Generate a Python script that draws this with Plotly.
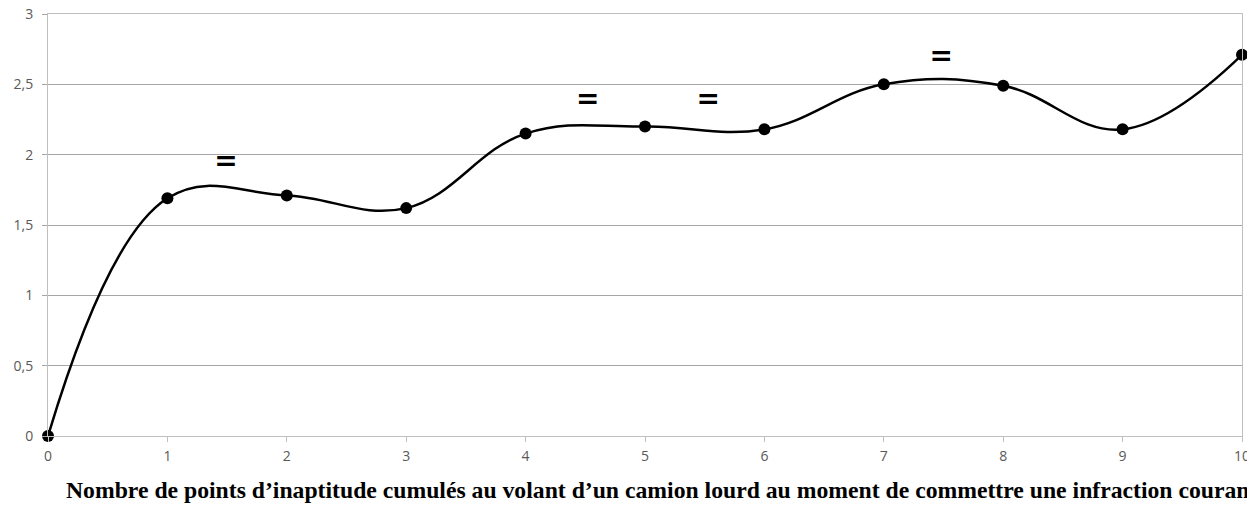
import plotly.graph_objects as go

x_vals = [0, 1, 2, 3, 4, 5, 6, 7, 8, 9, 10]
y_vals = [0, 1.69, 1.71, 1.62, 2.15, 2.2, 2.18, 2.5, 2.49, 2.18, 2.71]

eq_x = [1.49, 4.52, 5.53, 7.48]
eq_y = [1.94, 2.38, 2.38, 2.69]
eq_text = ["<b>=</b>"] * 4

y_ticks = [0, 0.5, 1, 1.5, 2, 2.5, 3]
x_ticks = list(range(0, 11))

title_text = ("Nombre de points d\u2019inaptitude cumulés au volant d\u2019un camion lourd "
              "au moment de commettre une infraction courante")

W, H = 1247, 500           # page body has an 8px margin in the browser window
L, R, T, B = 40, 13, 6, 72  # plot area: x 48..1242, y 14..436 on screen

fig = go.Figure()
fig.add_trace(go.Scatter(
    x=x_vals, y=y_vals, mode="lines+markers",
    line=dict(color="black", width=2.5, shape="spline", smoothing=1.15),
    marker=dict(color="black", size=12),
    cliponaxis=False, showlegend=False, hoverinfo="skip",
))
fig.add_trace(go.Scatter(
    x=eq_x, y=eq_y, mode="text", text=eq_text,
    textfont=dict(family="DejaVu Sans", size=28, color="black"),
    showlegend=False, hoverinfo="skip",
))

grid_c = "#a6a6a6"
fig.update_layout(
    width=W, height=H,
    margin=dict(l=L, r=R, t=T, b=B),
    paper_bgcolor="white", plot_bgcolor="white",
    separators=", ",
    font=dict(family="Open Sans", size=14, color="#595959"),
    xaxis=dict(range=[0, 10], tickvals=x_ticks, showgrid=False, zeroline=False,
               showline=True, linecolor="#bfbfbf", linewidth=1, mirror=True,
               ticks="outside", ticklen=5, tickcolor="#bfbfbf",
               automargin=False, ticklabelstandoff=2, ticklabeloverflow="allow"),
    yaxis=dict(range=[0, 3], tickvals=y_ticks, showgrid=True, gridcolor=grid_c,
               gridwidth=1, zeroline=False, showline=True, linecolor="#bfbfbf",
               linewidth=1, mirror=True, ticks="outside", ticklen=5,
               tickcolor=grid_c, automargin=False, ticklabelstandoff=6,
               ticklabeloverflow="allow"),
    annotations=[dict(
        text="<b>" + title_text + "</b>",
        x=(64 - 48) / (W - L - R), y=-(490 - 436) / (H - T - B),
        xref="paper", yref="paper",
        showarrow=False, xanchor="left", yanchor="middle",
        font=dict(family="Liberation Serif", size=23.7, color="black"),
    )],
)

fig.write_html("out.html")
